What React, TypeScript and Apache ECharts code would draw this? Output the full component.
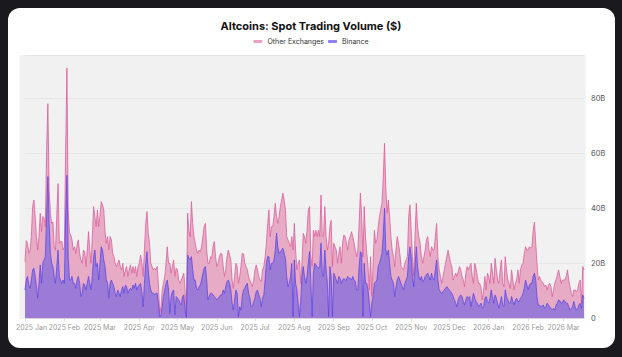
import React, { useEffect, useRef } from "react";
import * as echarts from "echarts";

// Daily values in billions of US$, starting 2025-01-01
const START_DATE = "2025-01-01";
const MONTHS = ["Jan", "Feb", "Mar", "Apr", "May", "Jun", "Jul", "Aug", "Sep", "Oct", "Nov", "Dec"];
const SERIES_NAMES = ["Other Exchanges", "Binance"];
const Y_TICKS = [0, 20, 40, 60, 80];

const binance = [
  10.3,13.9,15.2,12.1,10.9,13.9,17.6,18.2,15.2,11.5,
  7.3,12.7,19.4,12.7,20.0,21.2,22.4,37.0,51.5,34.5,
  23.6,20.0,18.8,15.2,12.7,18.8,24.8,15.2,13.9,12.7,
  13.9,12.7,37.0,52.0,22.4,13.9,13.9,15.2,12.7,12.7,
  10.9,13.9,15.2,12.7,7.9,9.1,12.7,12.1,10.3,12.7,
  15.2,12.7,10.3,15.2,22.4,24.8,18.8,20.0,13.9,20.0,
  26.0,24.8,21.2,18.8,13.9,12.7,7.3,12.7,13.9,12.7,
  11.5,9.1,7.9,10.3,9.1,7.9,10.3,11.5,9.1,12.1,
  11.5,9.1,10.3,10.9,10.3,12.1,10.9,12.7,10.3,11.5,
  12.1,12.7,9.1,4.2,12.7,20.0,24.2,17.6,12.7,10.3,
  9.1,9.1,8.5,9.1,9.1,5.5,0.6,1.2,4.2,7.9,
  10.3,12.7,13.9,10.3,1.8,7.9,9.7,10.3,1.2,7.9,
  7.3,6.7,5.5,4.8,7.9,8.5,3.0,0.3,23.0,21.8,
  21.2,22.4,17.6,13.9,13.9,10.9,10.3,11.5,12.1,13.9,
  16.4,18.2,18.8,13.9,6.7,7.9,9.1,9.1,8.5,7.9,
  7.3,6.7,7.3,7.9,8.5,8.5,10.3,9.1,11.5,13.3,
  13.9,12.7,10.3,5.5,3.0,6.7,10.3,9.1,0.6,4.2,
  3.0,7.9,10.3,10.9,12.1,12.7,9.1,7.3,4.2,4.2,
  6.1,7.3,9.7,10.3,8.5,7.3,4.2,7.3,8.5,13.9,
  20.0,22.4,22.4,17.6,20.0,20.0,21.2,24.8,31.0,26.0,
  23.6,24.2,24.8,25.5,23.6,21.8,15.2,11.5,12.7,15.2,
  20.0,0.6,21.2,12.7,10.3,5.5,0.6,6.0,15.2,18.8,
  15.2,12.7,15.2,20.0,24.2,12.7,0.6,16.4,20.0,19.4,
  18.8,18.2,18.8,27.3,16.4,15.2,24.8,17.6,12.7,0.6,
  18.8,15.2,0.6,16.4,15.2,13.9,12.7,15.2,14.5,12.7,
  13.9,14.5,13.9,13.9,15.2,14.5,14.5,13.9,15.2,13.9,
  13.3,10.3,10.3,18.8,24.2,23.6,0.6,20.0,12.7,12.7,
  10.3,5.5,0.6,5.5,7.9,12.7,13.3,13.9,18.8,20.0,
  21.8,23.6,30.9,40.0,24.8,23.0,24.8,20.0,15.2,13.9,
  12.7,7.9,11.5,13.9,15.2,13.9,12.7,11.5,10.3,12.7,
  13.9,15.2,22.4,26.0,22.4,15.2,11.5,18.8,26.0,18.8,
  15.2,13.9,15.2,13.3,13.9,15.2,15.8,16.4,15.2,13.9,
  16.4,14.5,13.9,17.6,21.2,13.9,10.3,9.7,9.1,9.7,
  10.3,10.9,11.5,10.9,10.3,9.7,9.1,7.9,6.7,5.5,
  4.2,6.7,7.9,8.5,7.9,6.1,4.8,6.7,7.9,7.3,
  7.9,4.2,6.7,9.1,7.3,6.1,5.5,4.2,4.8,5.5,
  3.6,4.2,7.3,7.9,6.1,5.5,7.3,10.3,7.9,5.5,
  8.5,7.3,5.5,3.6,5.5,7.9,4.8,4.2,10.3,7.9,
  6.7,5.5,5.5,7.9,6.1,4.8,6.7,7.3,6.1,6.1,
  7.3,7.9,9.1,10.9,13.9,12.1,10.3,12.1,12.7,12.7,
  15.2,16.4,13.9,7.9,4.8,4.8,4.2,4.5,4.8,3.6,
  4.2,5.5,4.8,4.2,3.6,3.0,3.6,3.0,4.8,5.5,
  6.7,6.4,5.5,5.5,6.7,6.1,5.5,5.5,4.2,3.0,
  3.6,4.2,6.1,4.2,3.0,3.6,4.8,5.5,3.6,8.5,
  7.3,
];

const otherExchanges = [
  10.3,14.3,12.1,11.5,13.9,15.8,23.0,24.8,21.8,18.2,
  17.5,17.0,18.8,18.8,17.0,15.2,10.9,24.0,26.5,12.2,
  14.6,14.5,16.2,10.8,12.1,18.2,24.2,12.1,14.0,15.2,
  10.9,13.3,24.0,39.0,17.0,17.0,16.4,13.3,12.1,13.3,
  12.7,12.8,13.3,10.9,13.3,10.9,12.1,12.1,8.5,12.1,
  16.3,12.1,9.7,14.5,18.2,12.2,14.5,19.4,19.4,17.0,
  16.4,16.4,18.2,12.7,13.4,17.0,17.5,17.0,14.6,10.9,
  10.9,10.9,10.9,9.7,12.1,10.9,7.3,8.5,6.1,5.5,
  7.3,6.1,7.3,8.5,6.1,6.7,5.5,6.1,4.9,7.3,
  7.9,10.3,10.9,11.0,12.1,14.5,14.6,13.3,14.6,9.7,
  9.7,8.5,9.7,8.5,9.7,7.2,1.2,3.0,6.1,4.8,
  4.9,7.3,12.1,9.7,18.2,8.5,9.1,10.9,14.0,10.3,
  10.3,7.2,7.2,9.1,7.3,7.9,7.3,0.3,15.2,10.2,
  8.5,20.0,16.9,15.8,13.4,13.9,13.3,13.3,12.1,12.1,
  13.3,15.1,15.7,10.9,13.3,12.1,13.3,12.7,17.5,20.0,
  15.1,12.1,12.7,14.5,15.1,14.9,8.5,6.1,6.1,9.1,
  10.9,10.3,10.9,8.4,7.9,8.5,9.7,9.7,12.1,11.0,
  15.8,15.7,13.1,9.1,6.7,4.9,6.1,6.6,8.5,7.3,
  7.8,10.3,9.7,7.3,6.7,6.6,9.1,10.3,10.3,8.5,
  7.3,12.1,17.0,12.1,13.3,13.3,15.8,17.0,6.0,8.5,
  13.4,16.4,18.2,20.0,19.4,17.6,14.5,17.0,14.6,10.8,
  9.7,24.2,13.3,12.1,7.3,14.5,20.6,6.7,4.8,12.1,
  14.5,14.6,16.8,19.4,16.4,9.7,18.2,15.6,9.7,12.6,
  10.9,13.8,10.9,17.5,13.3,14.5,15.8,12.1,12.1,26.7,
  14.5,20.4,18.2,10.9,10.8,10.9,7.3,8.4,11.5,7.3,
  13.4,15.8,15.8,13.4,9.6,14.0,15.2,17.6,14.5,13.4,
  11.5,12.1,14.5,15.7,21.3,13.4,21.8,20.6,17.0,10.9,
  8.5,4.8,21.8,2.4,12.1,19.3,14.0,14.6,14.5,17.0,
  17.6,18.2,20.6,23.6,22.5,15.2,18.2,17.0,14.5,10.9,
  9.7,10.9,13.3,15.8,12.1,9.7,6.1,6.7,7.3,7.3,
  7.3,7.2,14.6,15.2,9.6,7.2,3.7,10.9,15.8,14.5,
  14.5,13.4,7.2,6.7,8.5,9.6,12.7,13.3,9.6,8.5,
  9.6,10.3,10.9,12.1,13.3,8.5,7.3,5.5,3.6,5.5,
  7.3,9.1,10.9,13.9,12.1,10.3,9.7,6.0,8.5,10.9,
  11.0,10.3,10.9,9.1,7.3,7.8,6.7,9.7,10.9,10.3,
  10.9,15.8,8.5,3.6,12.7,12.1,9.7,8.5,7.9,5.4,
  3.1,6.1,7.9,2.4,10.3,9.7,5.4,9.7,8.5,7.2,
  13.3,10.3,8.4,9.1,12.1,13.3,7.9,7.3,12.1,9.7,
  7.2,7.2,5.4,9.7,7.8,5.5,6.0,6.6,11.5,6.6,
  10.3,11.5,10.9,12.7,12.1,12.7,14.5,13.9,12.8,13.3,
  16.8,18.6,13.4,12.1,9.1,10.4,9.7,8.8,7.9,7.9,
  7.9,4.8,7.3,8.5,7.9,4.9,6.7,9.7,9.1,10.3,
  10.9,8.8,7.2,8.4,7.2,7.8,9.7,12.1,9.7,8.5,
  5.5,3.7,4.2,6.1,6.7,6.7,7.9,8.4,1.9,10.3,
  10.3,
];

const LEGEND_COLORS = ["#eaa1c2", "#8d82f2"];

function buildDates(start: string, n: number): string[] {
  const base = new Date(start + "T00:00:00Z").getTime();
  const out: string[] = [];
  for (let i = 0; i < n; i++) {
    out.push(new Date(base + i * 86400000).toISOString().slice(0, 10));
  }
  return out;
}

const dates = buildDates(START_DATE, binance.length);

function monthLabel(d: string): string {
  return d.slice(0, 4) + " " + MONTHS[parseInt(d.slice(5, 7), 10) - 1];
}

export default function App() {
  const ref = useRef<HTMLDivElement>(null);

  useEffect(() => {
    if (!ref.current) return;
    const chart = echarts.init(ref.current, null, { renderer: "svg" });
    const font = "Inter, 'Noto Sans', sans-serif";
    chart.setOption({
      animation: false,
      textStyle: { fontFamily: font },
      title: {
        text: "Altcoins: Spot Trading Volume ($)",
        left: "center",
        top: 20,
        padding: 0,
        textStyle: { fontSize: 11, fontWeight: 700, color: "#111111", fontFamily: font },
      },
      legend: {
        data: SERIES_NAMES.map((n, i) => ({
          name: n,
          itemStyle: { color: LEGEND_COLORS[i], borderWidth: 0 },
          lineStyle: { color: LEGEND_COLORS[i], width: 0 },
        })),
        top: 38,
        left: "center",
        padding: 0,
        itemWidth: 9,
        itemHeight: 3,
        itemGap: 4,
        icon: "roundRect",
        textStyle: { fontSize: 7, color: "#333333", fontFamily: font },
      },
      graphic: [
        {
          type: "rect",
          z: -10,
          silent: true,
          shape: { x: 19.3, y: 55, width: 566.4, height: 264 },
          style: { fill: "#f1f1f1" },
        },
      ],
      grid: { left: 25, right: 38, top: 55, bottom: 38.7 },
      xAxis: {
        type: "category",
        data: dates,
        boundaryGap: false,
        axisLine: { show: false },
        axisTick: {
          show: true,
          length: 3,
          lineStyle: { color: "#dddddd" },
          interval: (_i: number, v: string) => v.slice(8, 10) === "01",
        },
        axisLabel: {
          interval: (_i: number, v: string) => v.slice(8, 10) === "01",
          fontSize: 7,
          color: "#9a9a9a",
          margin: 6,
          fontFamily: font,
          formatter: (v: string, i: number) =>
            i === 0 ? "{first|" + monthLabel(v) + "}" : monthLabel(v),
          rich: {
            first: { fontSize: 7, color: "#9a9a9a", fontFamily: font, padding: [0, 0, 0, 13] },
          },
        },
        splitLine: { show: false },
      },
      yAxis: {
        type: "value",
        position: "right",
        min: 0,
        max: 95.7,
        interval: 20,
        axisLine: { show: false },
        axisTick: { show: false },
        axisLabel: {
          fontSize: 7.5,
          color: "#555555",
          margin: 7,
          fontFamily: font,
          formatter: (v: number) =>
            Y_TICKS.indexOf(Math.round(v * 100) / 100) === -1 ? "" : v === 0 ? "0" : v + "B",
        },
        splitLine: { show: true, lineStyle: { color: "#e6e6e6", width: 1 } },
      },
      series: [
        {
          name: "Binance",
          type: "line",
          stack: "total",
          data: binance,
          symbol: "none",
          color: LEGEND_COLORS[1],
          lineStyle: { color: "#5b43e4", width: 0.8 },
          areaStyle: { color: "#9b7bd5", opacity: 1 },
          z: 3,
        },
        {
          name: "Other Exchanges",
          type: "line",
          stack: "total",
          data: otherExchanges,
          symbol: "none",
          color: LEGEND_COLORS[0],
          lineStyle: { color: "#d9609c", width: 0.8 },
          areaStyle: { color: "#e8abc6", opacity: 1 },
          z: 2,
        },
      ],
    });
    return () => chart.dispose();
  }, []);

  return (
    <div style={{ position: "fixed", left: 0, top: 0, width: 622, height: 357, background: "#1a1a1e", overflow: "hidden" }}>
      <div
        style={{
          position: "absolute",
          left: 7.5,
          top: 7.5,
          width: 607.5,
          height: 340,
          borderRadius: 12,
          background: "#ffffff",
        }}
      />
      <div ref={ref} style={{ position: "absolute", left: 0, top: 0, width: 622, height: 357 }} />
    </div>
  );
}
